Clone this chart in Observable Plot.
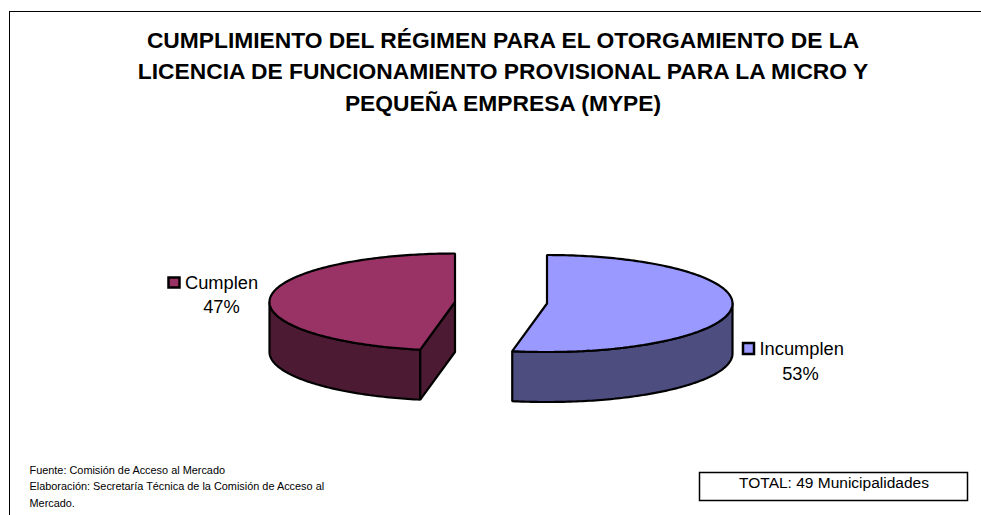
<!DOCTYPE html>
<html lang="es">
<head>
<meta charset="utf-8">
<script src="https://cdn.jsdelivr.net/npm/d3@7"></script>
<script src="https://cdn.jsdelivr.net/npm/@observablehq/plot@0.6"></script>
<style>
html,body{margin:0;padding:0;background:#fff;}
svg{display:block;}
</style>
</head>
<body>
<div id="chart"></div>
<script>
const categories = ["Cumplen", "Incumplen"];
const shares = [47, 53];
const topColors = ["#993366", "#9999FF"];
const wallColors = ["#4D1A33", "#4D4D80"];
const titleLines = [
  "CUMPLIMIENTO DEL RÉGIMEN PARA EL OTORGAMIENTO DE LA",
  "LICENCIA DE FUNCIONAMIENTO PROVISIONAL PARA LA MICRO Y",
  "PEQUEÑA EMPRESA (MYPE)"
];
const sourceLines = [
  "Fuente: Comisión de Acceso al Mercado",
  "Elaboración: Secretaría Técnica de la Comisión de Acceso al",
  "Mercado."
];
const totalLabel = "TOTAL: 49 Municipalidades";

// pie geometry (in the chart's page units)
const RX = 185.5, RY = 48.5, DEPTH = 50;
const cx = [454.5, 546.5], cy = [301.5, 303];

const splitAngle = shares[1] / 100 * 360;           // Incumplen runs clockwise from 12 o'clock
const rad = d => d * Math.PI / 180;
const pt = (i, a, dy = 0) => ({
  x: cx[i] + RX * Math.sin(rad(a)),
  y: cy[i] - RY * Math.cos(rad(a)) + dy
});
const arc = (i, a0, a1, dy = 0) => {
  const n = Math.max(2, Math.ceil(Math.abs(a1 - a0)));
  return d3.range(n + 1).map(k => pt(i, a0 + (a1 - a0) * k / n, dy));
};
const apex = (i, dy = 0) => ({x: cx[i], y: cy[i] + dy});

// Incumplen (index 1): top 0..split, outer wall visible from 90 to split
const incumplenTop = [apex(1), ...arc(1, 0, splitAngle), apex(1)];
const incumplenWall = [...arc(1, 90, splitAngle), ...arc(1, splitAngle, 90, DEPTH), pt(1, 90)];
// Cumplen (index 0): top split..360, outer wall visible from split to 270, cut face at split
const cumplenTop = [apex(0), ...arc(0, splitAngle, 360), apex(0)];
const cumplenWall = [...arc(0, splitAngle, 270), ...arc(0, 270, splitAngle, DEPTH), pt(0, splitAngle)];
const cumplenCut = [apex(0), pt(0, splitAngle), pt(0, splitAngle, DEPTH), apex(0, DEPTH), apex(0)];

const poly = (pts, fill) => Plot.line(pts, {
  x: "x", y: "y", fill, stroke: "#000", strokeWidth: 2.2, curve: "linear", strokeLinejoin: "miter"
});
const txt = (pts, opts) => Plot.text(pts, {
  x: "x", y: "y", text: "t", fill: "#000", lineAnchor: "bottom",
  fontFamily: "'Liberation Sans', Arial, sans-serif", ...opts
});

const chart = Plot.plot({
  width: 981, height: 515,
  margin: 0,
  x: {domain: [0, 981], range: [0, 981], axis: null},
  y: {domain: [0, 515], range: [0, 515], axis: null},
  marks: [
    // outer frame
    Plot.ruleY([11], {x1: 9, x2: 981, stroke: "#000", strokeWidth: 1}),
    Plot.ruleX([9], {y1: 11, y2: 515, stroke: "#000", strokeWidth: 1}),
    // title
    txt(titleLines.map((t, i) => ({t, x: 502.5, y: [47, 78, 110][i]})),
      {fontSize: 22.8, fontWeight: "bold", textAnchor: "middle"}),
    // pie
    poly(cumplenWall, wallColors[0]),
    poly(cumplenCut, wallColors[0]),
    poly(cumplenTop, topColors[0]),
    poly(incumplenWall, wallColors[1]),
    poly(incumplenTop, topColors[1]),
    // legend swatches
    Plot.rect([0, 1], {
      x1: i => [168.5, 743][i], x2: i => [179.5, 754][i],
      y1: i => [277.5, 343][i], y2: i => [287.5, 354][i],
      fill: i => topColors[i], stroke: "#000", strokeWidth: 2.5
    }),
    // data labels
    txt([{t: categories[0], x: 184.5, y: 288}, {t: categories[1], x: 759, y: 354}],
      {fontSize: 18.3, textAnchor: "start"}),
    txt([{t: shares[0] + "%", x: 221, y: 312}, {t: shares[1] + "%", x: 800, y: 379}],
      {fontSize: 18.3, textAnchor: "middle"}),
    // source
    txt(sourceLines.map((t, i) => ({t, x: 29, y: [473, 489, 506][i]})),
      {fontSize: 10.9, textAnchor: "start"}),
    // total box
    Plot.rect([0], {x1: 699.5, x2: 967.5, y1: 472.5, y2: 500.5, fill: "#fff", stroke: "#000", strokeWidth: 1.5}),
    txt([{t: totalLabel, x: 833.5, y: 487}], {fontSize: 15.5, textAnchor: "middle"})
  ]
});
document.getElementById("chart").append(chart);
</script>
</body>
</html>
